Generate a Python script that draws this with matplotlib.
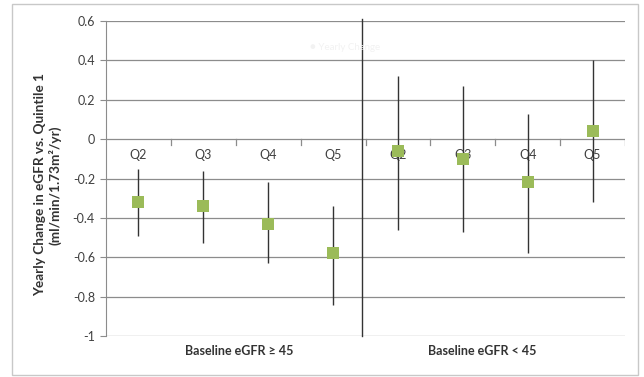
import matplotlib
matplotlib.use("Agg")
import matplotlib.pyplot as plt
from matplotlib.patches import Rectangle

plt.rcParams['font.family'] = ['Lato', 'DejaVu Sans']

categories = ["Q2", "Q3", "Q4", "Q5", "Q2", "Q3", "Q4", "Q5"]
values = [-0.32, -0.34, -0.43, -0.58, -0.06, -0.10, -0.22, 0.04]
upper = [-0.15, -0.16, -0.22, -0.34, 0.32, 0.27, 0.13, 0.40]
lower = [-0.49, -0.53, -0.63, -0.84, -0.46, -0.47, -0.58, -0.32]
group_labels = ["Baseline eGFR \u2265 45", "Baseline eGFR < 45"]
yticks = [0.6, 0.4, 0.2, 0, -0.2, -0.4, -0.6, -0.8, -1]
ytick_labels = ["0.6", "0.4", "0.2", "0", "-0.2", "-0.4", "-0.6", "-0.8", "-1"]
divider = 3.45

fig = plt.figure(figsize=(6.44, 3.77), dpi=100)
fig.patches.append(Rectangle((12/644, 2/377), 626/644, 371/377, transform=fig.transFigure,
                             fill=False, edgecolor='#c8c8c8', linewidth=1.0))
ax = fig.add_axes([106/644, 1 - 336/377, (625-106)/644, (336-21)/377])

x = list(range(len(categories)))
ax.set_xlim(-0.5, len(categories) - 0.5)
ax.set_ylim(-1, 0.6)

for yv in yticks:
    ax.axhline(yv, color='#8c8c8c', linewidth=0.9, zorder=0)

err_low = [v - l for v, l in zip(values, lower)]
err_up = [u - v for v, u in zip(values, upper)]
ax.errorbar(x, values, yerr=[err_low, err_up], fmt='none', ecolor='#333333',
            elinewidth=1.0, capsize=0, zorder=2)
ax.scatter(x, values, marker='s', s=85, color='#9bbb59', zorder=3, linewidths=0)

ax.plot([divider, divider], [-1, 0.61], color='#333333', linewidth=1.0, clip_on=False, zorder=2)

# category ticks along zero line
for b in [i + 0.5 for i in range(len(categories))]:
    ax.plot([b, b], [0, -0.028], color='#8c8c8c', linewidth=0.9, zorder=1)
for xi, c in zip(x, categories):
    ax.text(xi, -0.05, c, ha='center', va='top', fontsize=9, color='#404040', zorder=1)

ax.text(1.55, -1.045, group_labels[0], ha='center', va='top', fontsize=9,
        fontweight='bold', color='#333333')
ax.text(5.3, -1.045, group_labels[1], ha='center', va='top', fontsize=9,
        fontweight='bold', color='#333333')

ax.set_xticks([])
ax.set_yticks(yticks)
ax.set_yticklabels(ytick_labels, fontsize=9, color='#404040')
ax.tick_params(axis='y', length=4, color='#8c8c8c', pad=4)
for s in ['top', 'right', 'bottom']:
    ax.spines[s].set_visible(False)
ax.spines['left'].set_color('#8c8c8c')

fig.text(48/644, 1 - 185/377, "Yearly Change in eGFR vs. Quintile 1\n(ml/min/1.73m\u00b2/yr)",
         rotation=90, ha='center', va='center', fontsize=9.8, fontweight='bold',
         color='#333333', linespacing=1.25)

fig.text(345/644, 1 - 47/377, "\u25cf Yearly Change", ha='center', va='center',
         fontsize=7, color='#f2f2f2')

fig.savefig("out.png", dpi=100)
